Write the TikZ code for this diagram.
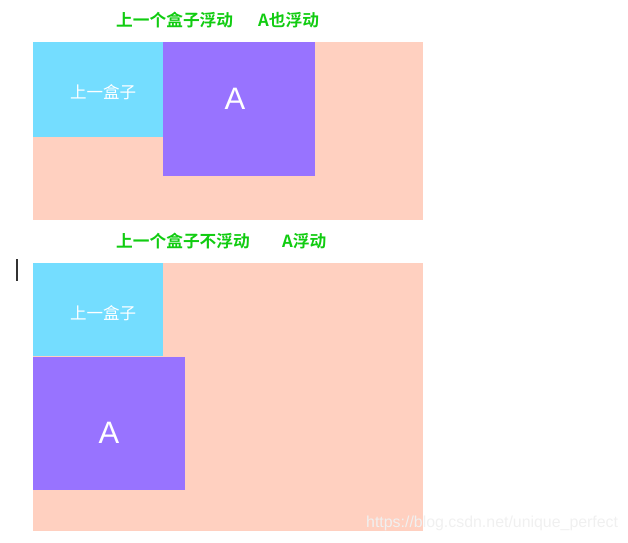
\documentclass[tikz,border=0pt]{standalone}
\usepackage{fontspec}
\newfontfamily\cjk{Noto Sans CJK SC}
\newfontfamily\cjkb{Noto Sans CJK SC Bold}
\newfontfamily\arialish{Liberation Sans}
\definecolor{peach}{HTML}{FFD0C0}
\definecolor{skyb}{HTML}{74DDFF}
\definecolor{purp}{HTML}{9873FF}
\definecolor{grn}{HTML}{11CC11}
\definecolor{wm}{HTML}{F0F0F0}
\begin{document}
\begin{tikzpicture}[x=1pt,y=-1pt,
  box/.style={draw=none,inner sep=0pt,outer sep=0pt,anchor=north west},
  title/.style={text=grn,font=\cjkb\fontsize{16.7}{17}\selectfont,inner sep=0pt,anchor=west},
  lbl/.style={text=white,font=\cjk\fontsize{16.5}{17}\selectfont,inner sep=0pt},
  biga/.style={text=white,font=\arialish\fontsize{31}{32}\selectfont,inner sep=0pt}]
\useasboundingbox (0,0) rectangle (628,542);
% top
\node[title] (t1) at (116,20) {上一个盒子浮动};
\node[title] (t2) at (258,20) {A也浮动};
\node[box,fill=peach,minimum width=390,minimum height=178] (c1) at (33,42) {};
\node[box,fill=skyb,minimum width=130,minimum height=95] (b1) at (33,42) {};
\node[box,fill=purp,minimum width=152,minimum height=134] (a1) at (163,42) {};
\node[lbl] at (103,92) (l1) {上一盒子};
\node[biga] at (235,99) (la1) {A};
% bottom
\node[title] (t3) at (116,241) {上一个盒子不浮动};
\node[title] (t4) at (282,241) {A浮动};
\node[box,fill=peach,minimum width=390,minimum height=268] (c2) at (33,263) {};
\node[box,fill=skyb,minimum width=130,minimum height=93] (b2) at (33,263) {};
\node[box,fill=purp,minimum width=152,minimum height=133] (a2) at (33,357) {};
\node[lbl] at (103,313) (l2) {上一盒子};
\node[biga] at (109,433) (la2) {A};
% cursor
\draw[line width=1.2pt,color=black!80] (17,259) -- (17,281);
% watermark
\node[text=wm,font=\arialish\fontsize{15.9}{17}\selectfont,inner sep=0pt,anchor=west] (w) at (366,523) {https://blog.csdn.net/unique\_perfect};
\end{tikzpicture}
\end{document}
